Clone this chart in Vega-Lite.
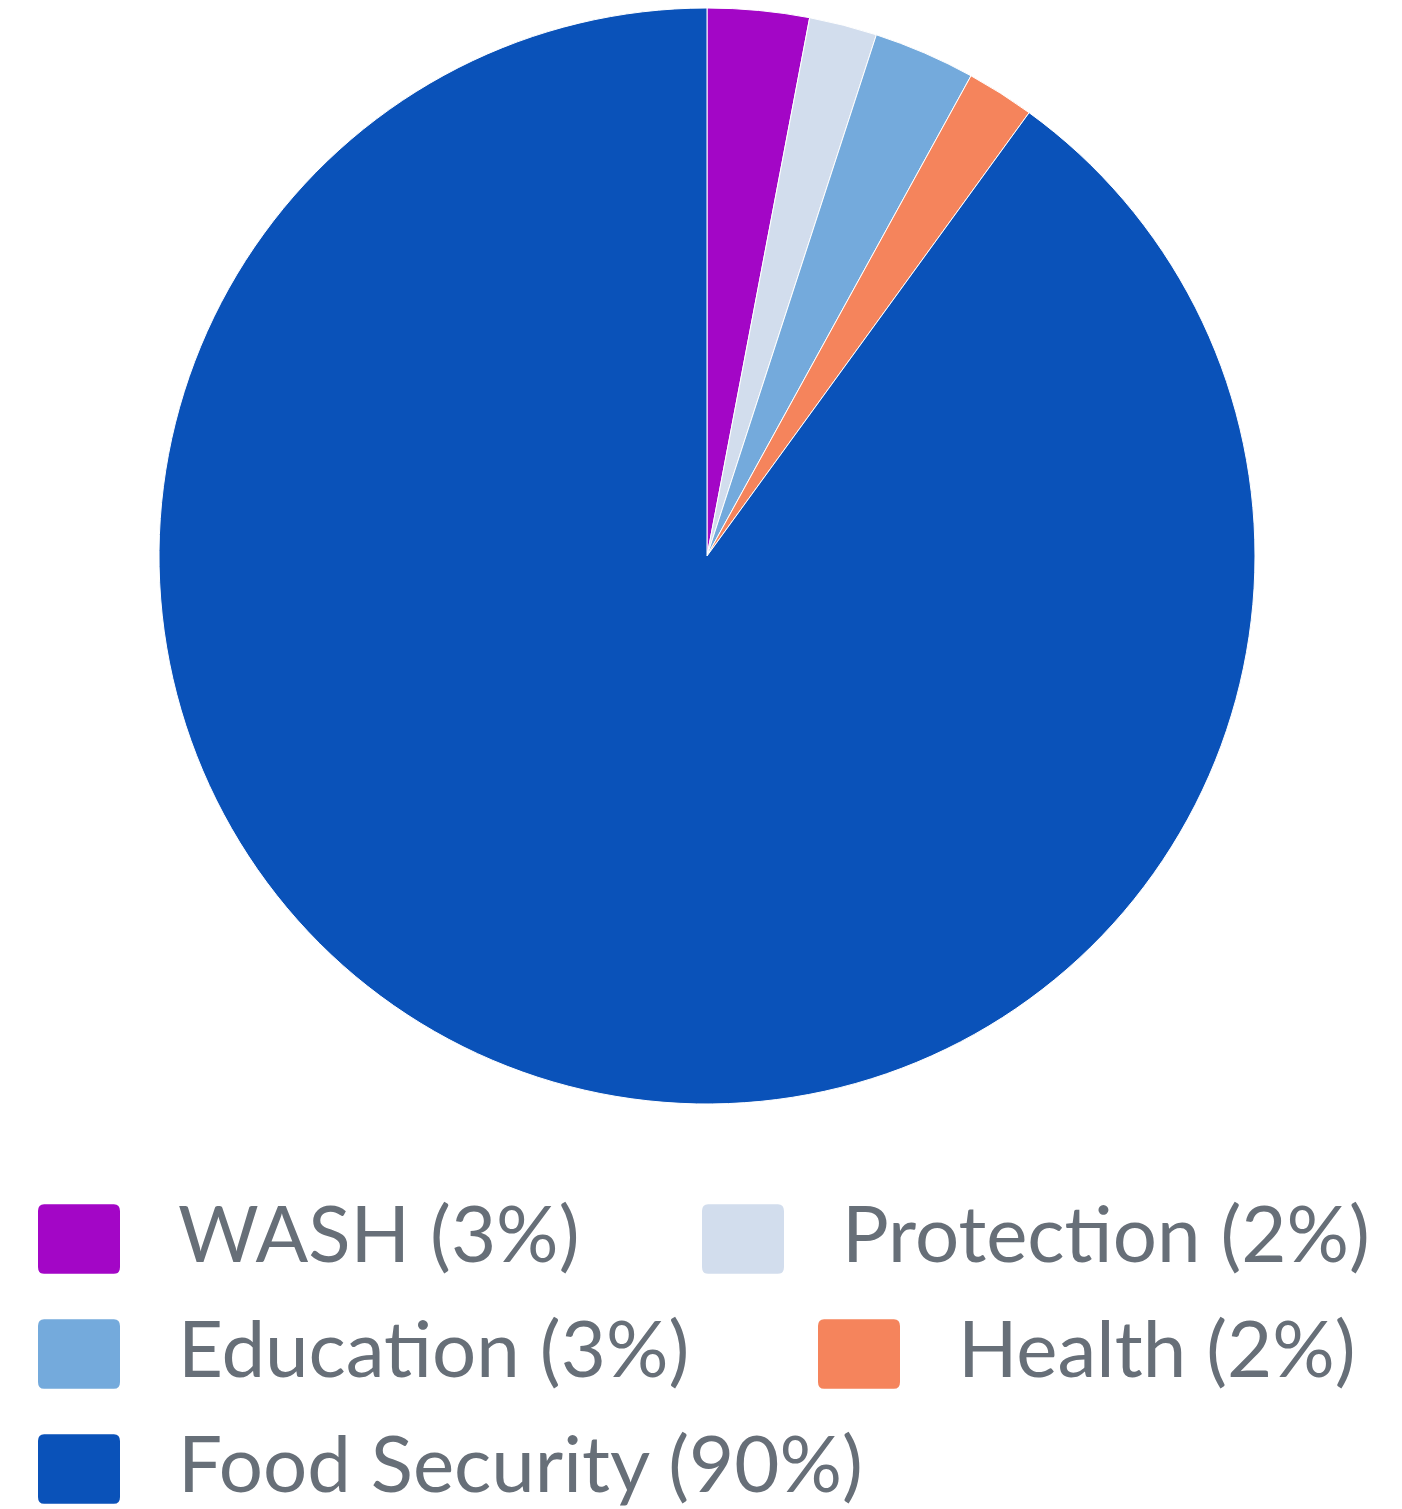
{
  "$schema": "https://vega.github.io/schema/vega-lite/v6.json",
  "width": 1414,
  "height": 1112,
  "padding": 0,
  "background": "white",
  "data": {
    "values": [
      {"sector": "WASH (3%)", "value": 3, "order": 1},
      {"sector": "Protection (2%)", "value": 2, "order": 2},
      {"sector": "Education (3%)", "value": 3, "order": 3},
      {"sector": "Health (2%)", "value": 2, "order": 4},
      {"sector": "Food Security (90%)", "value": 90, "order": 5}
    ]
  },
  "transform": [
    {"stack": "value", "groupby": [], "sort": [{"field": "order", "order": "ascending"}], "as": ["v0", "v1"]}
  ],
  "config": {
    "legend": {
      "title": null,
      "orient": "none",
      "symbolType": "M -1 -0.68 Q -1 -0.85 -0.85 -0.85 L 0.85 -0.85 Q 1 -0.85 1 -0.68 L 1 0.68 Q 1 0.85 0.85 0.85 L -0.85 0.85 Q -1 0.85 -1 0.68 Z",
      "symbolSize": 6724,
      "symbolStrokeWidth": 0,
      "symbolOpacity": 1,
      "labelFont": "Lato",
      "labelFontSize": 78,
      "labelColor": "#676f78",
      "labelOffset": 58,
      "labelLimit": 1000
    }
  },
  "layer": [
    {
      "transform": [{"filter": "datum.sector === 'WASH (3%)'"}],
      "mark": {"type": "arc", "radius": 548, "stroke": "white", "strokeWidth": 1},
      "encoding": {
        "theta": {"field": "v0", "type": "quantitative", "scale": {"domain": [0, 100]}},
        "theta2": {"field": "v1"},
        "color": {"field": "sector", "type": "nominal", "scale": {"range": ["#a306c6"]},
          "legend": {"legendX": 38, "legendY": 1198}}
      }
    },
    {
      "transform": [{"filter": "datum.sector === 'Protection (2%)'"}],
      "mark": {"type": "arc", "radius": 548, "stroke": "white", "strokeWidth": 1},
      "encoding": {
        "theta": {"field": "v0", "type": "quantitative", "scale": {"domain": [0, 100]}},
        "theta2": {"field": "v1"},
        "color": {"field": "sector", "type": "nominal", "scale": {"range": ["#d2dded"]},
          "legend": {"legendX": 702, "legendY": 1198}}
      }
    },
    {
      "transform": [{"filter": "datum.sector === 'Education (3%)'"}],
      "mark": {"type": "arc", "radius": 548, "stroke": "white", "strokeWidth": 1},
      "encoding": {
        "theta": {"field": "v0", "type": "quantitative", "scale": {"domain": [0, 100]}},
        "theta2": {"field": "v1"},
        "color": {"field": "sector", "type": "nominal", "scale": {"range": ["#74aadc"]},
          "legend": {"legendX": 38, "legendY": 1313}}
      }
    },
    {
      "transform": [{"filter": "datum.sector === 'Health (2%)'"}],
      "mark": {"type": "arc", "radius": 548, "stroke": "white", "strokeWidth": 1},
      "encoding": {
        "theta": {"field": "v0", "type": "quantitative", "scale": {"domain": [0, 100]}},
        "theta2": {"field": "v1"},
        "color": {"field": "sector", "type": "nominal", "scale": {"range": ["#f5845c"]},
          "legend": {"legendX": 818, "legendY": 1313}}
      }
    },
    {
      "transform": [{"filter": "datum.sector === 'Food Security (90%)'"}],
      "mark": {"type": "arc", "radius": 548, "stroke": "white", "strokeWidth": 1},
      "encoding": {
        "theta": {"field": "v0", "type": "quantitative", "scale": {"domain": [0, 100]}},
        "theta2": {"field": "v1"},
        "color": {"field": "sector", "type": "nominal", "scale": {"range": ["#0a52b9"]},
          "legend": {"legendX": 38, "legendY": 1428}}
      }
    }
  ],
  "resolve": {"scale": {"color": "independent"}, "legend": {"color": "independent"}}
}
